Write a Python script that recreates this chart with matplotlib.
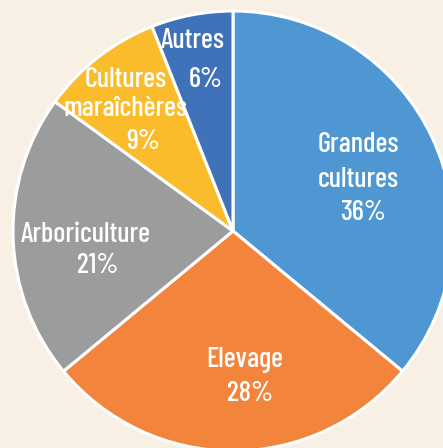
import matplotlib
matplotlib.use('Agg')
import matplotlib.pyplot as plt

# données
categories = ['Grandes\ncultures', 'Elevage', 'Arboriculture', 'Cultures\nmaraîchères', 'Autres']
values = [36, 28, 21, 9, 6]
colors = ['#4f97d2', '#f2843c', '#9b9d9d', '#fbbc2b', '#3f72b9']

# position des étiquettes (pixels, centre x / ligne de base de la 1re ligne)
label_xy = [(358, 152), (245, 367), (86, 242), (126, 87), (193, 48)]
line_step = [35, 0, 0, 29, 0]
pct_xy = [(363, 220), (250, 401), (98, 273), (143, 149), (206, 87)]

bg = '#f8f0e5'
W, H = 443, 448
cx, cy, R = 233, 231, 220

fig = plt.figure(figsize=(W / 100, H / 100), dpi=100, facecolor=bg)
ax = fig.add_axes([0, 0, 1, 1])
ax.set_facecolor(bg)

wedges, _ = ax.pie(values, colors=colors, startangle=90, counterclock=False,
                   radius=1.0, wedgeprops=dict(edgecolor='white', linewidth=2.2))

ax.set_xlim(-cx / R, (W - cx) / R)
ax.set_ylim(-(H - cy) / R, cy / R)
ax.set_aspect('auto')
ax.axis('off')


def px(x, y):
    return (x - cx) / R, (cy - y) / R


fam = ['Barlow Condensed', 'DejaVu Sans']
style = dict(ha='center', va='baseline', color='white', fontsize=20.5,
             fontweight='medium', family=fam)
for lab, v, (x, y), step, (xp, yp) in zip(categories, values, label_xy, line_step, pct_xy):
    for i, line in enumerate(lab.split('\n')):
        ax.text(*px(x, y + i * step), line, **style)
    ax.text(*px(xp, yp), f'{v}%', **style)

fig.savefig('out.png', dpi=100, facecolor=bg)
